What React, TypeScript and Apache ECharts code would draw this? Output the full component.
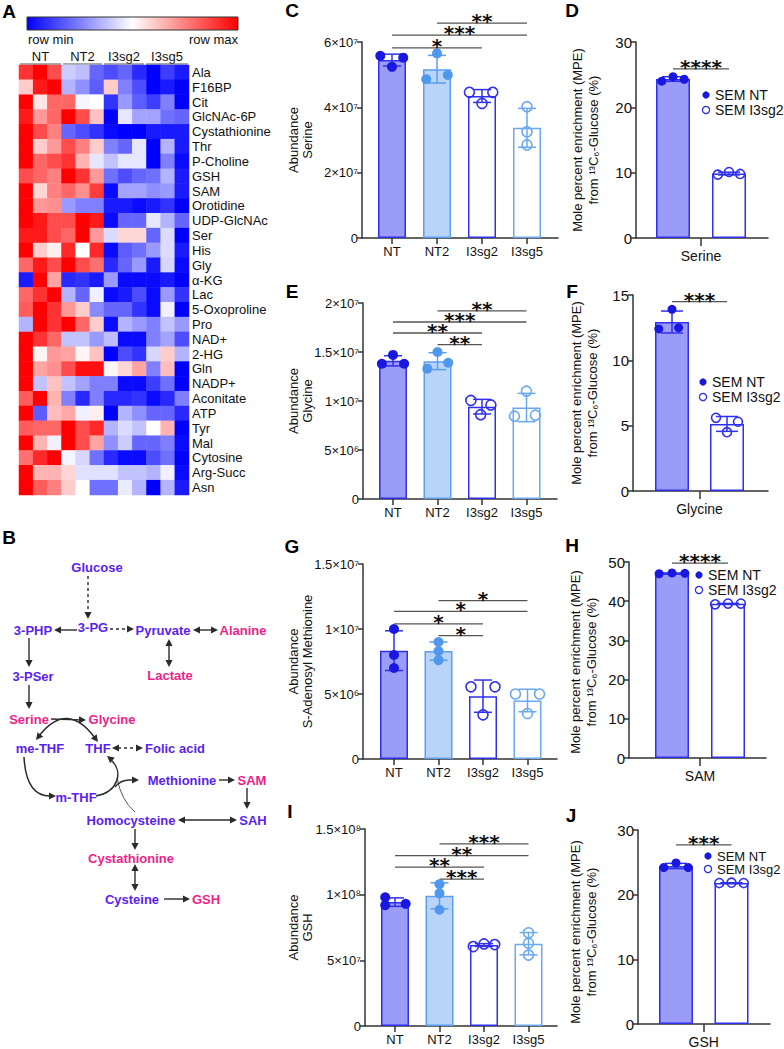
import React, { useEffect, useRef } from 'react';
import * as echarts from 'echarts';

const FONT = '"Liberation Sans", Arial, Helvetica, sans-serif';

// ---------------- Heatmap data (row min = 0, row max = 1) ----------------
const heatGroups = ['NT', 'NT2', 'I3sg2', 'I3sg5'];
const heatColumns = ['NT a', 'NT b', 'NT c', 'NT2 a', 'NT2 b', 'NT2 c', 'I3sg2 a', 'I3sg2 b', 'I3sg2 c', 'I3sg5 a', 'I3sg5 b', 'I3sg5 c'];
const metabolites = ['Ala', 'F16BP', 'Cit', 'GlcNAc-6P', 'Cystathionine', 'Thr', 'P-Choline', 'GSH', 'SAM', 'Orotidine', 'UDP-GlcNAc', 'Ser', 'His', 'Gly', 'α-KG', 'Lac', '5-Oxoproline', 'Pro', 'NAD+', '2-HG', 'Gln', 'NADP+', 'Aconitate', 'ATP', 'Tyr', 'Mal', 'Cytosine', 'Arg-Succ', 'Asn'];
const heatValues: number[][] = [
  [0.9, 1.0, 0.85, 0.4, 0.37, 0.2, 0.15, 0.2, 0.08, 0.0, 0.12, 0.05],
  [0.6, 0.95, 1.0, 0.35, 0.28, 0.18, 0.6, 0.25, 0.15, 0.0, 0.05, 0.0],
  [1.0, 0.55, 0.8, 0.8, 0.48, 0.5, 0.1, 0.3, 0.18, 0.12, 0.25, 0.0],
  [0.95, 0.7, 0.8, 1.0, 0.85, 0.62, 0.0, 0.45, 0.32, 0.32, 0.22, 0.2],
  [1.0, 0.85, 0.75, 0.2, 0.15, 0.1, 0.02, 0.0, 0.0, 0.05, 0.05, 0.05],
  [1.0, 0.6, 0.7, 0.85, 0.75, 0.6, 0.25, 0.2, 0.45, 0.0, 0.35, 0.05],
  [1.0, 0.8, 0.85, 0.9, 0.65, 0.45, 0.38, 0.45, 0.45, 0.0, 0.25, 0.02],
  [0.85, 0.8, 0.75, 1.0, 0.9, 0.7, 0.22, 0.15, 0.2, 0.22, 0.35, 0.05],
  [1.0, 0.58, 0.75, 0.8, 0.72, 0.88, 0.02, 0.32, 0.32, 0.28, 0.3, 0.05],
  [1.0, 0.7, 0.72, 0.3, 0.25, 0.25, 0.05, 0.05, 0.02, 0.05, 0.1, 0.0],
  [1.0, 0.95, 0.85, 0.85, 1.0, 0.95, 0.02, 0.2, 0.2, 0.45, 0.35, 0.2],
  [0.95, 0.95, 0.85, 0.8, 1.0, 0.7, 0.43, 0.58, 0.58, 0.2, 0.43, 0.0],
  [1.0, 0.6, 0.53, 0.92, 0.5, 0.92, 0.02, 0.18, 0.22, 0.3, 0.43, 0.05],
  [0.8, 0.95, 0.85, 1.0, 0.85, 0.78, 0.08, 0.2, 0.3, 0.05, 0.42, 0.02],
  [0.05, 1.0, 0.68, 0.08, 0.1, 0.05, 0.3, 0.02, 0.02, 0.02, 0.05, 0.0],
  [0.8, 0.9, 1.0, 0.35, 0.2, 0.47, 0.02, 0.05, 0.15, 0.02, 0.3, 0.1],
  [0.82, 1.0, 0.9, 0.7, 0.6, 0.27, 0.2, 0.2, 0.1, 0.02, 0.47, 0.0],
  [0.35, 1.0, 0.9, 1.0, 0.8, 0.6, 0.02, 0.35, 0.3, 0.25, 0.38, 0.3],
  [1.0, 0.9, 0.8, 0.38, 0.38, 0.3, 0.37, 0.02, 0.02, 0.25, 0.32, 0.15],
  [1.0, 0.52, 0.7, 0.68, 0.52, 0.62, 0.0, 0.15, 0.1, 0.42, 0.6, 0.35],
  [1.0, 0.68, 0.72, 0.85, 0.97, 0.97, 0.52, 0.58, 0.68, 0.25, 0.63, 0.0],
  [1.0, 0.38, 0.62, 0.38, 0.32, 0.25, 0.25, 0.02, 0.02, 0.12, 0.22, 0.0],
  [0.82, 1.0, 0.65, 0.25, 0.08, 0.25, 0.08, 0.08, 0.1, 0.02, 0.08, 0.25],
  [1.0, 0.18, 0.63, 0.67, 0.47, 0.53, 0.0, 0.35, 0.28, 0.2, 0.2, 0.08],
  [0.82, 0.8, 0.8, 1.0, 0.85, 0.92, 0.35, 0.43, 0.38, 0.5, 0.65, 0.0],
  [1.0, 0.65, 0.47, 1.0, 0.85, 0.68, 0.28, 0.4, 0.2, 0.2, 0.25, 0.02],
  [0.78, 0.92, 1.0, 0.48, 0.42, 0.22, 0.08, 0.02, 0.02, 0.15, 0.22, 0.0],
  [1.0, 0.65, 0.65, 0.58, 0.44, 0.44, 0.44, 0.38, 0.38, 0.35, 0.47, 0.02],
  [1.0, 0.82, 0.75, 0.6, 0.5, 0.22, 0.22, 0.46, 0.35, 0.0, 0.35, 0.05],
];

// ---------------- Abundance panels (C, E, G, I) ----------------
const abundGroups = ['NT', 'NT2', 'I3sg2', 'I3sg5'];
const serineAbundance = [[5.58e7, 5.24e7, 5.52e7], [4.86e7, 5.65e7, 4.99e7], [4.46e7, 4.12e7, 4.46e7], [4.02e7, 3.25e7, 2.85e7]];
const serineAbundanceSig = [[0, 2, 5.82e7], [0, 3, 6.21e7], [1, 3, 6.58e7]];
const serineAbundanceStars = ['*', '***', '**'];
const glycineAbundance = [[1.38e7, 1.47e7, 1.38e7], [1.33e7, 1.5e7, 1.39e7], [1.006e7, 0.86e7, 0.96e7], [1.1e7, 0.845e7, 0.855e7]];
const glycineAbundanceSig = [[1, 2, 1.575e7], [0, 2, 1.694e7], [0, 3, 1.806e7], [1, 3, 1.92e7]];
const glycineAbundanceStars = ['**', '**', '***', '**'];
const samAbundance = [[1.0e7, 8.0e6, 7.0e6], [9.0e6, 8.3e6, 7.6e6], [5.55e6, 5.55e6, 3.4e6], [5.0e6, 5.0e6, 3.5e6]];
const samAbundanceSig = [[1, 2, 9.49e6], [0, 2, 1.04e7], [0, 3, 1.135e7], [1, 3, 1.218e7]];
const samAbundanceStars = ['*', '*', '*', '*'];
const gshAbundance = [[9.8e7, 9.2e7, 9.3e7], [1.08e8, 1.01e8, 8.85e7], [6.05e7, 6.25e7, 6.2e7], [7.1e7, 6.3e7, 5.4e7]];
const gshAbundanceSig = [[1, 2, 1.119e8], [0, 2, 1.21e8], [0, 3, 1.297e8], [1, 3, 1.386e8]];
const gshAbundanceStars = ['***', '**', '**', '***'];

// ---------------- MPE panels (D, F, H, J) ----------------
const mpeGroups = ['SEM NT', 'SEM I3sg2'];
const serineMPE = [[24.0, 24.7, 24.3], [9.7, 10.1, 9.8]];
const glycineMPE = [[13.9, 12.4, 12.5], [5.6, 5.3, 4.5]];
const samMPE = [[47.0, 47.2, 47.1], [39.2, 39.4, 39.4]];
const gshMPE = [[24.2, 24.9, 24.2], [21.8, 21.85, 21.8]];
const serineMPESig = [[0, 1, 25.9]];
const glycineMPESig = [[0, 1, 14.5]];
const samMPESig = [[0, 1, 49.7]];
const gshMPESig = [[0, 1, 27.7]];
const serineMPEStars = ['****'];
const glycineMPEStars = ['***'];
const samMPEStars = ['****'];
const gshMPEStars = ['***'];

// ---------------- helpers ----------------
const SUP: Record<string, string> = { '0': '⁰', '1': '¹', '2': '²', '3': '³', '4': '⁴', '5': '⁵', '6': '⁶', '7': '⁷', '8': '⁸', '9': '⁹' };
const sci = (v: number) => {
  if (v === 0) return '0';
  const e = Math.floor(Math.log10(v) + 1e-9);
  const m = Math.round((v / Math.pow(10, e)) * 10) / 10;
  return `${m}×10${String(e).split('').map((c) => SUP[c]).join('')}`;
};
const mean = (a: number[]) => a.reduce((s, v) => s + v, 0) / a.length;
const sdev = (a: number[]) => {
  const m = mean(a);
  return Math.sqrt(a.reduce((s, v) => s + (v - m) ** 2, 0) / (a.length - 1));
};

const abundStyle = {
  fill: ['#9b9bf8', '#b8d5f9', '#ffffff', '#ffffff'],
  stroke: ['#2f2ff0', '#5c9ef0', '#3030ee', '#6aa8f2'],
  ptFill: ['#1818e0', '#5098ee', 'rgba(255,255,255,0)', 'rgba(255,255,255,0)'],
  ptStroke: ['#1818e0', '#5098ee', '#3030ee', '#6aa8f2'],
};
const mpeStyle = {
  fill: ['#9b9bf8', '#ffffff'],
  stroke: ['#2f2ff0', '#2f2ff0'],
  ptFill: ['#1818e0', 'rgba(255,255,255,0)'],
  ptStroke: ['#1818e0', '#2f2ff0'],
};

const panels: any[] = [
  { kind: 'abund', letter: 'C', lx: 292, ly: 10, name: 'Serine', data: serineAbundance, sig: serineAbundanceSig, stars: serineAbundanceStars, yMax: 6e7, yInt: 2e7, grid: { left: 362, top: 42, width: 196, height: 196 }, c0: 30, step: 45, jitter: [[-0.26, 0, 0.25], [-0.24, 0, 0.24], [-0.28, 0, 0.24], [0, 0, 0]] },
  { kind: 'mpe', letter: 'D', lx: 572, ly: 10, name: 'Serine', data: serineMPE, sig: serineMPESig, stars: serineMPEStars, yMax: 30, yInt: 10, grid: { left: 636, top: 42, width: 132, height: 196 }, c0: 37, step: 56, jitter: [[-0.2, 0, 0.2], [-0.2, 0, 0.2]], legendY: 95, titleX: 577, titleY: 140 },
  { kind: 'abund', letter: 'E', lx: 292, ly: 291, name: 'Glycine', data: glycineAbundance, sig: glycineAbundanceSig, stars: glycineAbundanceStars, yMax: 2e7, yInt: 5e6, grid: { left: 363, top: 303, width: 194, height: 196 }, c0: 30, step: 44.5, jitter: [[-0.25, 0, 0.25], [-0.23, 0, 0.24], [-0.25, -0.03, 0.2], [0, -0.27, 0.2]] },
  { kind: 'mpe', letter: 'F', lx: 572, ly: 291, name: 'Glycine', data: glycineMPE, sig: glycineMPESig, stars: glycineMPEStars, yMax: 15, yInt: 5, grid: { left: 633, top: 295, width: 135, height: 196 }, c0: 39, step: 55, jitter: [[0, -0.24, 0.12], [-0.2, 0.2, 0]], legendY: 382, titleX: 576, titleY: 393 },
  { kind: 'abund', letter: 'G', lx: 292, ly: 546, name: 'S-Adenosyl Methionine', data: samAbundance, sig: samAbundanceSig, stars: samAbundanceStars, yMax: 1.5e7, yInt: 5e6, grid: { left: 363, top: 564, width: 194, height: 195 }, c0: 31, step: 44.5, jitter: [[0, 0, 0], [0, 0, 0], [-0.27, 0.27, 0], [-0.27, 0.27, 0]] },
  { kind: 'mpe', letter: 'H', lx: 572, ly: 545, name: 'SAM', data: samMPE, sig: samMPESig, stars: samMPEStars, yMax: 50, yInt: 10, grid: { left: 629, top: 562, width: 137, height: 196 }, c0: 43, step: 56, jitter: [[-0.23, 0, 0.23], [-0.23, 0, 0.23]], legendY: 575, titleX: 575, titleY: 662 },
  { kind: 'abund', letter: 'I', lx: 290, ly: 811, name: 'GSH', data: gshAbundance, sig: gshAbundanceSig, stars: gshAbundanceStars, yMax: 1.5e8, yInt: 5e7, grid: { left: 365, top: 829, width: 192, height: 197 }, c0: 30, step: 44.5, jitter: [[-0.22, -0.22, 0.24], [0, 0, 0], [-0.24, 0, 0.24], [0, 0, 0]] },
  { kind: 'mpe', letter: 'J', lx: 571, ly: 815, name: 'GSH', data: gshMPE, sig: gshMPESig, stars: gshMPEStars, yMax: 30, yInt: 10, grid: { left: 638, top: 830, width: 132, height: 197 }, c0: 38, step: 55.5, jitter: [[-0.22, 0, 0.22], [-0.22, 0, 0.22]], legendY: 856, legendGap: 13, titleX: 575, titleY: 932 },
];

// ---------------- pathway diagram (panel B) ----------------
const BLUE = '#5a22f0';
const PINK = '#ee1f8a';
const ARROW = '#2b2b2b';
const pathwayNodes: [string, number, number, string][] = [
  ['Glucose', 97, 567, BLUE], ['3-PHP', 33, 630, BLUE], ['3-PG', 93, 627, BLUE], ['Pyruvate', 163, 630, BLUE],
  ['Alanine', 243, 630, PINK], ['Lactate', 170, 675, PINK], ['3-PSer', 33, 676, BLUE], ['Serine', 29, 719, PINK],
  ['Glycine', 112, 719, PINK], ['me-THF', 40, 748, BLUE], ['THF', 98, 748, BLUE], ['Folic acid', 175, 748, BLUE],
  ['m-THF', 76, 797, BLUE], ['Methionine', 182, 780, BLUE], ['SAM', 252, 780, PINK], ['SAH', 253, 820, BLUE],
  ['Homocysteine', 131, 820, BLUE], ['Cystathionine', 131, 858, PINK], ['Cysteine', 132, 899, BLUE], ['GSH', 206, 899, PINK],
];

function head(x: number, y: number, dx: number, dy: number, L = 7, W = 3.6) {
  const len = Math.hypot(dx, dy);
  const ux = dx / len, uy = dy / len;
  const bx = x - ux * L, by = y - uy * L;
  return {
    type: 'polygon',
    shape: { points: [[x, y], [bx - uy * W, by + ux * W], [bx + uy * W, by - ux * W]] },
    style: { fill: ARROW },
  };
}
function arrow(x1: number, y1: number, x2: number, y2: number, opts: { dashed?: boolean; double?: boolean } = {}) {
  const dx = x2 - x1, dy = y2 - y1;
  const len = Math.hypot(dx, dy);
  const ux = dx / len, uy = dy / len;
  const L = 6;
  const sx = opts.double ? x1 + ux * L : x1, sy = opts.double ? y1 + uy * L : y1;
  const ex = x2 - ux * L, ey = y2 - uy * L;
  const els: any[] = [
    { type: 'line', shape: { x1: sx, y1: sy, x2: ex, y2: ey }, style: { stroke: ARROW, lineWidth: 1.4, lineDash: opts.dashed ? [3, 3] : null } },
    head(x2, y2, dx, dy),
  ];
  if (opts.double) els.push(head(x1, y1, -dx, -dy));
  return els;
}

function pathwayGraphics() {
  const g: any[] = [];
  pathwayNodes.forEach(([t, x, y, c]) => {
    g.push({ type: 'text', x, y, z: 10, style: { text: t, fill: c, font: `bold 13px ${FONT}`, textAlign: 'center', textVerticalAlign: 'middle' } });
  });
  g.push(...arrow(88, 576, 88, 619, { dashed: true }));
  g.push(...arrow(77, 630, 54, 630));
  g.push(...arrow(110, 629, 134, 629, { dashed: true }));
  g.push(...arrow(193, 630, 218, 630, { double: true }));
  g.push(...arrow(169, 639, 169, 667, { double: true }));
  g.push(...arrow(29, 638, 29, 667));
  g.push(...arrow(29, 685, 29, 709));
  g.push(...arrow(51, 719, 86, 720));
  g.push(...arrow(112, 748, 143, 748, { dashed: true, double: true }));
  g.push(...arrow(219, 780, 235, 780));
  g.push(...arrow(247, 788, 247, 809));
  g.push(...arrow(178, 820, 237, 820, { double: true }));
  g.push(...arrow(135, 829, 135, 850));
  g.push(...arrow(135, 864, 135, 891, { double: true }));
  g.push(...arrow(164, 899, 190, 899));
  const cs = { stroke: ARROW, lineWidth: 1.5, fill: null };
  g.push({ type: 'bezierCurve', shape: { x1: 39, y1: 736, cpx1: 67, cpy1: 700, x2: 95, y2: 738 }, style: cs });
  g.push(head(36, 740, -30, 38));
  g.push(head(98, 742, 30, 40));
  g.push({ type: 'bezierCurve', shape: { x1: 24, y1: 757, cpx1: 26, cpy1: 796, x2: 50, y2: 796 }, style: cs });
  g.push(head(56, 796, 1, 0));
  g.push({ type: 'bezierCurve', shape: { x1: 96, y1: 796, cpx1: 118, cpy1: 792, cpx2: 124, cpy2: 772, x2: 111, y2: 760 }, style: cs });
  g.push(head(107, 756, -16, -13));
  g.push({ type: 'bezierCurve', shape: { x1: 115, y1: 787, cpx1: 121, cpy1: 779, x2: 132, y2: 780 }, style: cs });
  g.push(head(139, 780, 1, 0));
  g.push({ type: 'bezierCurve', shape: { x1: 135, y1: 812, cpx1: 121, cpy1: 800, x2: 117, y2: 778 }, style: { stroke: ARROW, lineWidth: 0.8, fill: null } });
  return g;
}

function buildOption() {
  const grids: any[] = [];
  const xAxes: any[] = [];
  const yAxes: any[] = [];
  const series: any[] = [];
  const graphics: any[] = [];

  // ---- heatmap ----
  grids.push({ left: 19, top: 65, width: 170, height: 430 });
  xAxes.push({ type: 'category', gridIndex: 0, data: heatColumns, show: false });
  yAxes.push({
    type: 'category', gridIndex: 0, data: metabolites, inverse: true, position: 'right',
    axisLine: { show: false }, axisTick: { show: false },
    axisLabel: { interval: 0, fontSize: 13, color: '#111', margin: 3, fontFamily: FONT },
  });
  const hdata: number[][] = [];
  heatValues.forEach((row, r) => row.forEach((v, c) => hdata.push([c, r, v])));
  series.push({ type: 'heatmap', xAxisIndex: 0, yAxisIndex: 0, data: hdata, itemStyle: { borderWidth: 0 }, emphasis: { disabled: true }, silent: true });

  graphics.push({
    type: 'rect', shape: { x: 27, y: 17, width: 211, height: 13 },
    style: {
      fill: { type: 'linear', x: 0, y: 0, x2: 1, y2: 0, colorStops: [{ offset: 0, color: '#0000ff' }, { offset: 0.5, color: '#ffffff' }, { offset: 1, color: '#ff0000' }] },
      stroke: '#333', lineWidth: 1,
    },
  });
  graphics.push({ type: 'text', x: 28, y: 39, style: { text: 'row min', font: `13px ${FONT}`, fill: '#111', textAlign: 'left', textVerticalAlign: 'middle' } });
  graphics.push({ type: 'text', x: 238, y: 39, style: { text: 'row max', font: `13px ${FONT}`, fill: '#111', textAlign: 'right', textVerticalAlign: 'middle' } });
  const gx = [[20, 61], [63, 102], [104, 144], [146, 188]];
  heatGroups.forEach((gname, i) => {
    const [a, b] = gx[i];
    graphics.push({ type: 'text', x: (a + b) / 2, y: 56, style: { text: gname, font: `13px ${FONT}`, fill: '#111', textAlign: 'center', textVerticalAlign: 'middle' } });
    graphics.push({ type: 'line', shape: { x1: a, y1: 64, x2: b, y2: 64 }, style: { stroke: '#555', lineWidth: 1.2 } });
  });

  const letter = (t: string, x: number, y: number) => ({ type: 'text', x, y, style: { text: t, font: `bold 19px ${FONT}`, fill: '#000', textAlign: 'center', textVerticalAlign: 'middle' } });
  graphics.push(letter('A', 9, 11));
  graphics.push(letter('B', 9, 537));
  graphics.push(...pathwayGraphics());

  // ---- bar panels ----
  panels.forEach((p, k) => {
    const gi = k + 1;
    const isA = p.kind === 'abund';
    const st = isA ? abundStyle : mpeStyle;
    grids.push({ ...p.grid });
    const ticks = isA ? [0, 1, 2, 3] : [0.5];
    xAxes.push({
      type: 'value', gridIndex: gi, min: -p.c0 / p.step, max: (p.grid.width - p.c0) / p.step,
      splitLine: { show: false },
      axisLine: { show: true, onZero: false, lineStyle: { color: '#333', width: 1.5 } },
      axisTick: { show: true, customValues: ticks, length: isA ? 6 : 8, lineStyle: { color: '#333', width: 1.5 } },
      axisLabel: {
        customValues: ticks, fontSize: isA ? 13 : 14, color: '#111', margin: isA ? 7 : 11, fontFamily: FONT,
        formatter: (v: number) => (isA ? abundGroups[Math.round(v)] : p.name),
      },
    });
    yAxes.push({
      type: 'value', gridIndex: gi, min: 0, max: p.yMax, interval: p.yInt,
      splitLine: { show: false },
      axisLine: { show: true, onZero: false, lineStyle: { color: '#333', width: 1.5 } },
      axisTick: { show: true, length: 5, lineStyle: { color: '#333', width: 1.5 } },
      axisLabel: { fontSize: isA ? 13 : 15, color: '#111', margin: 4, fontFamily: FONT, formatter: (v: number) => (isA ? sci(v) : String(v)) },
    });
    const barW = isA ? 28 : 34;
    series.push({
      type: 'bar', xAxisIndex: gi, yAxisIndex: gi, barWidth: barW, silent: true, z: 2,
      data: p.data.map((pts: number[], i: number) => ({ value: [i, mean(pts)], itemStyle: { color: st.fill[i], borderColor: st.stroke[i], borderWidth: 1.5 } })),
    });
    const capHalf = isA ? 9 : 11;
    series.push({
      type: 'custom', xAxisIndex: gi, yAxisIndex: gi, z: 3, silent: true, clip: false,
      data: p.data.map((pts: number[], i: number) => [i, mean(pts) - sdev(pts), mean(pts) + sdev(pts)]),
      renderItem: (params: any, api: any) => {
        const x = api.value(0);
        const hi = api.coord([x, api.value(2)]);
        const lo = api.coord([x, api.value(1)]);
        const c = st.stroke[params.dataIndex];
        const s = { stroke: c, lineWidth: 1.5 };
        return {
          type: 'group', children: [
            { type: 'line', shape: { x1: hi[0], y1: hi[1], x2: lo[0], y2: lo[1] }, style: s },
            { type: 'line', shape: { x1: hi[0] - capHalf, y1: hi[1], x2: hi[0] + capHalf, y2: hi[1] }, style: s },
            { type: 'line', shape: { x1: lo[0] - capHalf, y1: lo[1], x2: lo[0] + capHalf, y2: lo[1] }, style: s },
          ],
        };
      },
    });
    const sdata: any[] = [];
    p.data.forEach((pts: number[], i: number) => pts.forEach((v: number, j: number) => {
      const open = st.ptFill[i].startsWith('rgba');
      sdata.push({ value: [i + p.jitter[i][j], v], itemStyle: { color: st.ptFill[i], borderColor: st.ptStroke[i], borderWidth: open ? 1.6 : 0, opacity: 1 } });
    }));
    series.push({ type: 'scatter', xAxisIndex: gi, yAxisIndex: gi, symbol: 'circle', symbolSize: isA ? 10 : 9, z: 4, silent: true, data: sdata });
    series.push({
      type: 'custom', xAxisIndex: gi, yAxisIndex: gi, z: 5, silent: true, clip: false,
      data: p.sig,
      renderItem: (params: any, api: any) => {
        const a = api.coord([api.value(0), api.value(2)]);
        const b = api.coord([api.value(1), api.value(2)]);
        return {
          type: 'group', children: [
            { type: 'line', shape: { x1: a[0], y1: a[1], x2: b[0], y2: b[1] }, style: { stroke: '#555', lineWidth: 1.3 } },
            { type: 'text', x: (a[0] + b[0]) / 2, y: a[1] - 2, style: { text: p.stars[params.dataIndex], font: `bold 20px "DejaVu Sans", ${FONT}`, fill: '#111', textAlign: 'center', textVerticalAlign: 'middle' } },
          ],
        };
      },
    });

    graphics.push(letter(p.letter, p.lx, p.ly));
    const cy = p.grid.top + p.grid.height / 2;
    const rot = (t: string, x: number, y: number) => ({ type: 'text', x, y, rotation: Math.PI / 2, style: { text: t, font: `13px ${FONT}`, fill: '#111', textAlign: 'center', textVerticalAlign: 'middle' } });
    if (isA) {
      graphics.push(rot('Abundance', 293, cy));
      graphics.push(rot(p.name, 307, cy));
    } else {
      graphics.push(rot('Mole percent enrichment (MPE)', p.titleX, p.titleY));
      graphics.push(rot('from ¹³C₆-Glucose (%)', p.titleX + 16, p.titleY));
      const lgx = p.grid.left + 70;
      const gap = p.legendGap || 15;
      mpeGroups.forEach((lab, i) => {
        const y = p.legendY + i * gap;
        graphics.push({ type: 'circle', shape: { cx: lgx, cy: y, r: 3.6 }, style: { fill: i === 0 ? '#1818e0' : '#fff', stroke: '#2f2ff0', lineWidth: i === 0 ? 0 : 1.3 } });
        graphics.push({ type: 'text', x: lgx + 9, y, style: { text: lab, font: `${p.legendGap ? 13 : 14}px ${FONT}`, fill: '#111', textAlign: 'left', textVerticalAlign: 'middle' } });
      });
    }
  });

  return {
    animation: false,
    backgroundColor: '#ffffff',
    textStyle: { fontFamily: FONT },
    grid: grids,
    xAxis: xAxes,
    yAxis: yAxes,
    visualMap: [{ type: 'continuous', show: false, min: 0, max: 1, seriesIndex: 0, dimension: 2, inRange: { color: ['#0000ff', '#ffffff', '#ff0000'] } }],
    series,
    graphic: { elements: graphics },
  };
}

export default function App() {
  const ref = useRef<HTMLDivElement>(null);
  useEffect(() => {
    if (!ref.current) return;
    const chart = echarts.init(ref.current, null, { renderer: 'svg' });
    chart.setOption(buildOption() as any);
    return () => chart.dispose();
  }, []);
  return <div ref={ref} style={{ position: 'absolute', left: 0, top: 0, width: 784, height: 1049, background: '#fff' }} />;
}
